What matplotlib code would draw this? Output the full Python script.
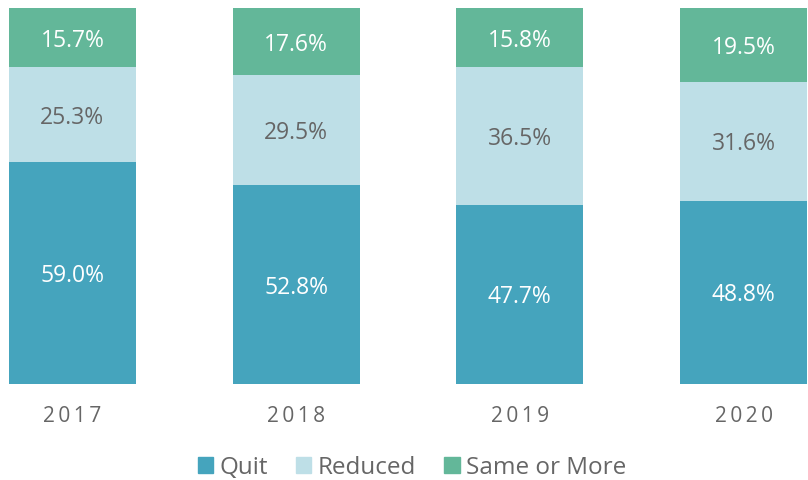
import numpy as np
import matplotlib
matplotlib.use("Agg")
import matplotlib.pyplot as plt
from matplotlib.patches import Patch

plt.rcParams['font.family'] = ['Open Sans', 'DejaVu Sans']

years = ['2017', '2018', '2019', '2020']
quit_vals = [59.0, 52.8, 47.7, 48.8]
reduced_vals = [25.3, 29.5, 36.5, 31.6]
same_vals = [15.7, 17.6, 15.8, 19.5]

c_quit = '#45a4bd'
c_reduced = '#bedfe7'
c_same = '#63b799'
grey = '#666666'

fig = plt.figure(figsize=(8.08, 4.8), dpi=100)
W, H = 808, 480
ax = fig.add_axes([9 / W, 96 / H, 798 / W, 376 / H])

x = np.arange(len(years))
w = 0.567
quit_arr = np.array(quit_vals)
red_arr = np.array(reduced_vals)
same_arr = np.array(same_vals)

ax.bar(x, quit_arr, w, color=c_quit, lw=0)
ax.bar(x, red_arr, w, bottom=quit_arr, color=c_reduced, lw=0)
ax.bar(x, same_arr, w, bottom=quit_arr + red_arr, color=c_same, lw=0)

lbl = dict(ha='center', va='center', fontsize=16.5, textcoords='offset points',
           xytext=(0, -2.2))
for i in range(len(years)):
    ax.annotate(f'{quit_arr[i]:.1f}%', (x[i], quit_arr[i] / 2), color='white', **lbl)
    ax.annotate(f'{red_arr[i]:.1f}%', (x[i], quit_arr[i] + red_arr[i] / 2), color=grey, **lbl)
    ax.annotate(f'{same_arr[i]:.1f}%', (x[i], quit_arr[i] + red_arr[i] + same_arr[i] / 2),
                color='white', **lbl)

ax.set_xlim(-w / 2, len(years) - 1 + w / 2)
ax.set_ylim(0, 100)
ax.set_xticks(x)
ax.set_xticklabels(['\u2009'.join(y) for y in years], color=grey, fontsize=15)
ax.tick_params(axis='x', length=0, pad=16)
ax.set_yticks([])
for s in ax.spines.values():
    s.set_visible(False)

handles = [Patch(color=c_quit, label='Quit'),
           Patch(color=c_reduced, label='Reduced'),
           Patch(color=c_same, label='Same or More')]
leg = fig.legend(handles=handles, loc='center', bbox_to_anchor=(412 / W, 1 - 467.5 / H),
                 ncol=3, frameon=False, handlelength=0.63, handleheight=0.63,
                 handletextpad=0.27, columnspacing=1.15, prop={'size': 17.5})
for t in leg.get_texts():
    t.set_color(grey)

fig.savefig('out.png', dpi=100)
